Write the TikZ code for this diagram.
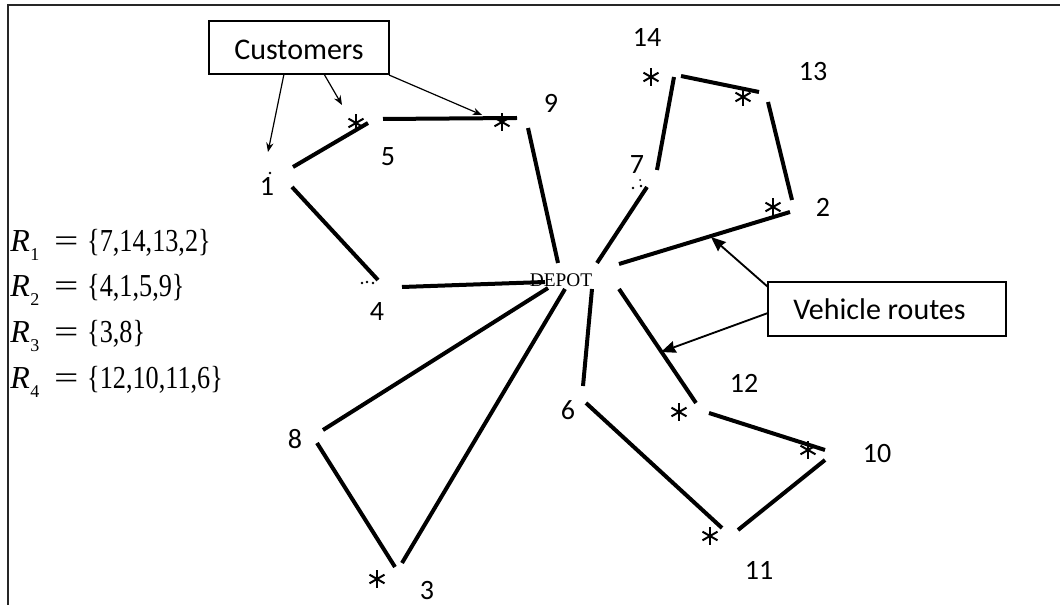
\documentclass[tikz,border=0pt]{standalone}
\usepackage{fontspec}
\setmainfont{Carlito}
\newfontfamily\timesfont{Liberation Serif}
\usetikzlibrary{arrows.meta}

% subscript for the route names
\newcommand\rsub[1]{\raisebox{-0.26em}{\fontsize{13.5}{13.5}\selectfont #1}}
% one route list: name, index and members
\newcommand\routeset[2]{\textit{R}\kern0.5pt\rsub{#1}\hspace{11pt}\scalebox{1.35}[1]{=}\hspace{6.5pt}\scalebox{0.82}[1]{\{#2\}}}

\begin{document}
\begin{tikzpicture}[x=0.75pt,y=-0.75pt,
  route/.style={line width=3pt},
  pointer/.style={line width=0.9pt, -{Stealth[length=7pt,width=5.5pt]}},
  bigpointer/.style={line width=1.4pt, -{Stealth[length=11pt,width=9pt,inset=1pt]}},
  lbl/.style={inner sep=0pt, font=\fontsize{21}{21}\selectfont},
  boxtext/.style={inner sep=0pt, anchor=base, font=\fontsize{22.5}{22.5}\selectfont},
  callout/.style={draw, line width=1.4pt, inner sep=0pt},
  eqn/.style={inner sep=0pt, anchor=base west, font=\timesfont\fontsize{24}{24}\selectfont},
  custmark/.style={inner sep=0pt, minimum size=13.5pt, path picture={
      \foreach \a in {90,30,150}
        \draw[line width=1.5pt]
          ([shift={(\a:6.5pt)}]path picture bounding box.center) --
          ([shift={(\a+180:6.5pt)}]path picture bounding box.center);}},
  speck/.style={fill=black, inner sep=0pt, minimum size=2pt, circle}]

  % canvas and frame
  \fill[white] (0,0) rectangle (1060,605);
  \useasboundingbox (0,0) rectangle (1060,605);
  \draw[line width=1.6pt, black!85] (8,605) -- (8,5) -- (1060,5);

  % depot
  \node[inner sep=0pt, font=\timesfont\fontsize{14.5}{14.5}\selectfont] (depot) at (561,280) {DEPOT};

  % customer marks
  \node[custmark] (s5)  at (356,123) {};
  \node[custmark] (s9)  at (502,122) {};
  \node[custmark] (s14) at (651,77)  {};
  \node[custmark] (s13) at (743,97)  {};
  \node[custmark] (s2)  at (773,207) {};
  \node[custmark] (s12) at (679,412) {};
  \node[custmark] (s10) at (808,450) {};
  \node[custmark] (s11) at (710,536) {};
  \node[custmark] (s3)  at (377,579) {};

  % faint remains of the marks at 1, 4 and 7
  \node[speck] (d1a) at (270,173) {};
  \node[speck] (d4a) at (362,283) {};
  \node[speck] (d4b) at (367,282) {};
  \node[speck] (d4c) at (373,283) {};
  \node[speck] (d7a) at (633,188) {};
  \node[speck] (d7b) at (641,186) {};
  \node[speck, minimum size=1.5pt] (d7c) at (640,180) {};

  % customer numbers
  \node[lbl] (l1)  at (267,186) {1};
  \node[lbl] (l2)  at (823,207) {2};
  \node[lbl] (l3)  at (427,591) {3};
  \node[lbl] (l4)  at (377,312) {4};
  \node[lbl] (l5)  at (388,157) {5};
  \node[lbl] (l6)  at (568,410) {6};
  \node[lbl] (l7)  at (637,165) {7};
  \node[lbl] (l8)  at (295,439) {8};
  \node[lbl] (l9)  at (551,103) {9};
  \node[lbl] (l10) at (877,454) {10};
  \node[lbl] (l11) at (759,570) {11};
  \node[lbl] (l12) at (744,383) {12};
  \node[lbl] (l13) at (813,72)  {13};
  \node[lbl] (l14) at (647,37)  {14};

  % segment end points
  \coordinate (a4)  at (402,287);  \coordinate (b4)  at (545,282);
  \coordinate (a14) at (292,187);  \coordinate (b14) at (378,280);
  \coordinate (a15) at (293,167);  \coordinate (b15) at (368,123);
  \coordinate (a59) at (383,119);  \coordinate (b59) at (517,118);
  \coordinate (a9)  at (528,128);  \coordinate (b9)  at (558,263);
  \coordinate (a7)  at (597,263);  \coordinate (b7)  at (647,187);
  \coordinate (a714) at (657,170); \coordinate (b714) at (674,77);
  \coordinate (a1413) at (681,76); \coordinate (b1413) at (759,92);
  \coordinate (a132) at (768,102); \coordinate (b132) at (792,200);
  \coordinate (a2)  at (619,264);  \coordinate (b2)  at (790,212);
  \coordinate (a8)  at (548,288);  \coordinate (b8)  at (323,430);
  \coordinate (a83) at (317,443);  \coordinate (b83) at (395,567);
  \coordinate (a3)  at (565,289);  \coordinate (b3)  at (402,563);
  \coordinate (a12) at (619,289);  \coordinate (b12) at (696,403);
  \coordinate (a1210) at (709,413); \coordinate (b1210) at (825,450);
  \coordinate (a1011) at (825,460); \coordinate (b1011) at (738,530);
  \coordinate (a116) at (722,528); \coordinate (b116) at (586,403);
  \coordinate (a6)  at (592,289);  \coordinate (b6)  at (583,386);

  % route R2: depot, 4, 1, 5, 9
  \draw[route] (a4) -- (b4);
  \draw[route] (a14) -- (b14);
  \draw[route] (a15) -- (b15);
  \draw[route] (a59) -- (b59);
  \draw[route] (a9) -- (b9);
  % route R1: depot, 7, 14, 13, 2
  \draw[route] (a7) -- (b7);
  \draw[route] (a714) -- (b714);
  \draw[route] (a1413) -- (b1413);
  \draw[route] (a132) -- (b132);
  \draw[route] (a2) -- (b2);
  % route R3: depot, 8, 3
  \draw[route] (a8) -- (b8);
  \draw[route] (a83) -- (b83);
  \draw[route] (a3) -- (b3);
  % route R4: depot, 12, 10, 11, 6
  \draw[route] (a12) -- (b12);
  \draw[route] (a1210) -- (b1210);
  \draw[route] (a1011) -- (b1011);
  \draw[route] (a116) -- (b116);
  \draw[route] (a6) -- (b6);

  % callout: customers
  \node[callout, minimum width=135pt, minimum height=39.75pt] (cust) at (299,47.5) {};
  \node[boxtext] (custtext) at (299,60) {Customers};
  \coordinate (c1) at (284,74);  \coordinate (t1) at (268,152);
  \coordinate (c2) at (324,74);  \coordinate (t2) at (342,105);
  \coordinate (c3) at (389,75);  \coordinate (t3) at (482,115);
  \draw[pointer] (c1) -- (t1);
  \draw[pointer] (c2) -- (t2);
  \draw[pointer] (c3) -- (t3);

  % callout: vehicle routes
  \node[callout, minimum width=178.5pt, minimum height=40.5pt] (veh) at (887,309) {};
  \node[boxtext] (vehtext) at (879.5,320) {Vehicle routes};
  \coordinate (v1) at (768,287);  \coordinate (u1) at (711,237);
  \coordinate (v2) at (768,313);  \coordinate (u2) at (661,352);
  \draw[bigpointer] (v1) -- (u1);
  \draw[bigpointer] (v2) -- (u2);

  % route lists
  \node[eqn] (r1) at (10,252) {\routeset{1}{7,14,13,2}};
  \node[eqn] (r2) at (10,297) {\routeset{2}{4,1,5,9}};
  \node[eqn] (r3) at (10,343) {\routeset{3}{3,8}};
  \node[eqn] (r4) at (10,389) {\routeset{4}{12,10,11,6}};
\end{tikzpicture}
\end{document}
